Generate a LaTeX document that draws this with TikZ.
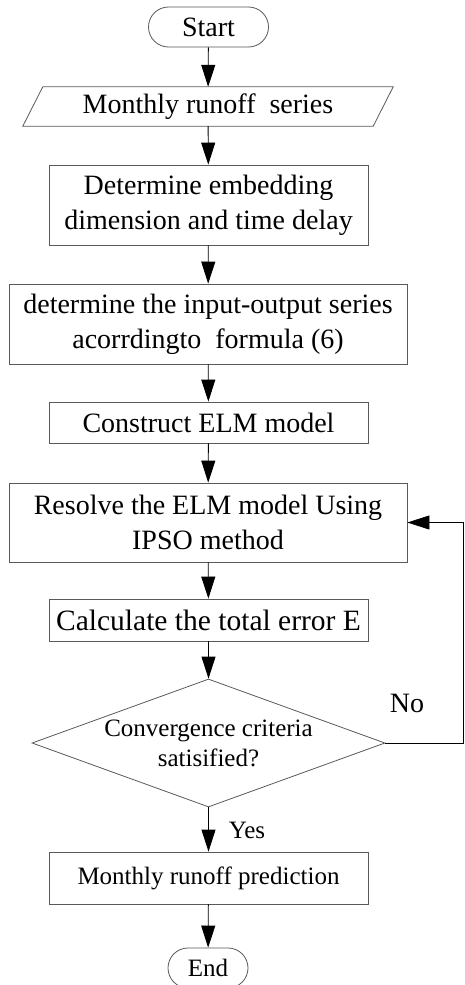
\documentclass[tikz,border=0pt]{standalone}
\usepackage{fontspec}
\setmainfont{Liberation Serif}
\usetikzlibrary{arrows.meta,shapes.geometric,calc}
\begin{document}
\begin{tikzpicture}[x=1pt,y=-1pt,
  box/.style={draw=black!65, line width=0.8pt, rectangle, inner sep=0pt, align=center},
  term/.style={box, rounded corners=20pt, minimum height=40pt},
  big/.style={font=\fontsize{28}{35}\selectfont},
  bigger/.style={font=\fontsize{29.5}{35}\selectfont},
  small/.style={font=\fontsize{25}{30}\selectfont},
  arr/.style={draw=black, line width=0.8pt, -{Triangle[length=22pt,width=14pt]}},
  lbl/.style={inner sep=0pt}
]
\useasboundingbox (0,0) rectangle (464,985);

\node[term, big, minimum width=120pt] (start) at (208.5,27) {Start};

\node[lbl, big, minimum width=370pt, minimum height=39pt] (in) at (208,106.5) {Monthly runoff\ \ series};
\draw[draw=black!65, line width=0.8pt] ($(in.north west)+(20,0)$) -- (in.north east) -- ($(in.south east)+(-20,0)$) -- (in.south west) -- cycle;

\node[box, big, minimum width=319pt, minimum height=80pt] (emb) at (208.5,205) {Determine embedding\\dimension and time delay};
\node[box, big, minimum width=398pt, minimum height=80pt] (io) at (208,324) {determine the input-output series\\acorrdingto\ \ formula (6)};
\node[box, big, minimum width=319pt, minimum height=41pt] (elm) at (208.5,422.5) {Construct ELM model};
\node[box, big, minimum width=398pt, minimum height=79pt] (res) at (208,522.5) {Resolve the ELM model Using\\IPSO method};
\node[box, bigger, minimum width=319pt, minimum height=42pt] (err) at (208.5,620) {Calculate the total error E};
\node[draw=black!65, line width=0.8pt, diamond, minimum width=353pt, minimum height=128pt, inner sep=0pt] (dec) at (208.5,743) {};
\node[lbl, small, align=center] (dect) at (208.5,743) {Convergence criteria\\satisified?};
\node[box, small, minimum width=319pt, minimum height=52pt] (pred) at (208.5,878) {Monthly runoff prediction};
\node[term, small, minimum width=80pt] (end) at (208,968) {End};

\coordinate (corner) at (463,743);
\node[lbl, big] (no) at (407,703) {No};
\node[lbl, small] (yes) at (247,830) {Yes};

\draw[arr] (start) -- (in);
\draw[arr] (in) -- (emb);
\draw[arr] (emb) -- (io);
\draw[arr] (io) -- (elm);
\draw[arr] (elm) -- (res);
\draw[arr] (res) -- (err);
\draw[arr] (err) -- (dec);
\draw[arr] (dec) -- (pred);
\draw[arr] (pred) -- (end);
\draw[arr] (dec.east) -- (corner) |- (res.east);
\end{tikzpicture}
\end{document}
